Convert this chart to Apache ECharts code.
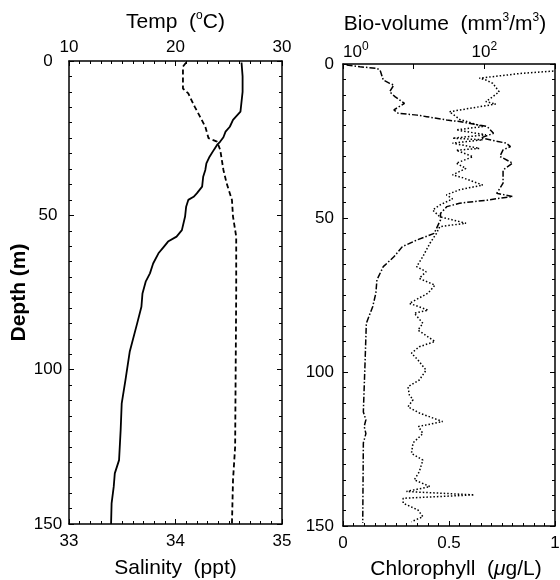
<!DOCTYPE html>
<html>
<head>
<meta charset="utf-8">
<script src="https://cdn.jsdelivr.net/npm/echarts@6/dist/echarts.min.js"></script>
<style>
  html, body { margin: 0; padding: 0; background: #fff; }
  #chart { width: 560px; height: 580px; }
</style>
</head>
<body>
<div id="chart"></div>
<script>
// temperature profile (solid, top axis of left panel)
const tempDepth = [0.5, 5, 10, 16.4, 19.1, 21.3, 22.9, 24.7, 26.1, 27.2, 28.8, 31, 33.2, 35.3, 37.5, 40.7, 42.9, 44, 45, 47.2, 50.4, 54.8, 56.9, 58.5, 60.2, 62.3, 65.6, 68.8, 71.5, 75.3, 79.6, 85, 94.2, 103.4, 110.9, 119.6, 129.3, 133.6, 137.9, 143.3, 150];
const tempValue = [26.2, 26.3, 26.3, 26.1, 25.4, 25.1, 24.7, 24.5, 24.2, 23.9, 23.6, 23.2, 22.9, 22.8, 22.6, 22.5, 22.0, 21.7, 21.2, 21.0, 20.9, 20.6, 20.1, 19.3, 18.9, 18.4, 17.9, 17.6, 17.2, 16.9, 16.8, 16.4, 15.7, 15.3, 14.95, 14.85, 14.7, 14.3, 14.2, 14.0, 13.95];

// salinity profile (dashed, bottom axis of left panel)
const salDepth = [0.5, 1.8, 8.9, 10.5, 14.8, 18, 21.3, 25, 26.1, 28.8, 35.3, 39.6, 45, 50.4, 56.9, 75, 100, 125, 135.8, 150];
const salValue = [34.1, 34.07, 34.07, 34.12, 34.18, 34.23, 34.28, 34.31, 34.39, 34.42, 34.45, 34.48, 34.53, 34.54, 34.57, 34.57, 34.565, 34.56, 34.54, 34.53];

// chlorophyll (dash-dot, bottom axis of right panel)
const chlDepth = [0.3, 0.9, 1.4, 2, 5.2, 6.3, 6.8, 9, 10.6, 12.8, 14.9, 16, 16.6, 17.1, 18.2, 18.7, 20.3, 22.5, 24, 25.7, 26.8, 27.9, 30, 32.2, 34.4, 38.7, 42, 43, 44.2, 45.2, 46.3, 48.5, 50.6, 55, 57.1, 59.3, 62.6, 65.8, 70.1, 74.4, 78.8, 84.2, 97, 113, 115.5, 117.7, 120, 123, 149];
const chlValue = [0.017, 0.08, 0.16, 0.175, 0.19, 0.22, 0.24, 0.22, 0.245, 0.29, 0.24, 0.26, 0.35, 0.395, 0.49, 0.55, 0.68, 0.71, 0.65, 0.77, 0.79, 0.755, 0.74, 0.8, 0.755, 0.755, 0.725, 0.8, 0.68, 0.55, 0.49, 0.46, 0.46, 0.43, 0.35, 0.28, 0.24, 0.19, 0.16, 0.155, 0.14, 0.11, 0.104, 0.096, 0.108, 0.1, 0.108, 0.096, 0.093];

// bio-volume (dotted, log top axis of right panel)
const bioDepth = [2.3, 3, 4.6, 5.2, 6.3, 9, 10.6, 12.2, 13, 15.5, 17.1, 18, 20.3, 21.4, 23, 24.1, 24.6, 25.7, 27.4, 28, 30.1, 32.2, 33.9, 36, 36.9, 39.3, 40.8, 42.5, 43.8, 45.8, 47.4, 49.6, 51.7, 52.8, 55, 58.2, 62.5, 65.8, 67.4, 69.6, 71.8, 74.4, 77.7, 79.9, 80.9, 84.2, 86.4, 90.1, 91.8, 93.9, 96.1, 99.4, 102.6, 104.8, 107.5, 109, 111.3, 113.3, 116.1, 117.7, 120, 123, 126.4, 128.6, 132.4, 135, 137.2, 138.8, 139.9, 141, 142.6, 144.8, 147, 148.6];
const bioValue = [950, 347, 85, 105, 132, 162, 132, 105, 145, 32, 40, 45, 95, 40, 105, 35.5, 95, 35.5, 85, 40, 69, 40, 55, 35.5, 49, 95, 45, 29, 35.5, 23.4, 18.6, 23.4, 55, 23.4, 21, 17, 13.5, 11, 15, 12, 20, 16, 8.7, 16, 10.2, 13.5, 11.5, 20, 12, 9.3, 11.5, 15, 12, 8.3, 8.7, 9.8, 8.3, 12, 25.7, 11.7, 13.5, 9.8, 9.3, 13.5, 12, 10.2, 17, 7.9, 72, 7.1, 7.1, 11.5, 13.5, 9.3];

const font = 'Liberation Sans, Arial, sans-serif';
const sup = { fontSize: 12, lineHeight: 10, verticalAlign: 'top', fontFamily: font, color: '#000' };
const ital = { fontStyle: 'italic', fontSize: 21, lineHeight: 24, fontFamily: font, color: '#000' };

function pairs(ys, xs) {
  return ys.map((d, i) => [xs[i], d]);
}

function nameStyle(extra) {
  return Object.assign({
    color: '#000', fontSize: 21, lineHeight: 24, fontFamily: font,
    rich: { s: sup, i: ital }
  }, extra);
}

function baseAxis(extra) {
  return Object.assign({
    axisLine: { show: true, onZero: false, lineStyle: { color: '#000', width: 1.5 } },
    axisTick: { show: true, inside: true, length: 5, lineStyle: { color: '#000' } },
    minorTick: { show: true, splitNumber: 10, length: 3, lineStyle: { color: '#000' } },
    splitLine: { show: false },
    axisLabel: { color: '#000', fontSize: 17, fontFamily: font },
    nameTextStyle: nameStyle(),
    nameLocation: 'middle'
  }, extra);
}

function depthAxis(grid, pos, label) {
  return baseAxis({
    type: 'value', gridIndex: grid, position: pos,
    min: 0, max: 150, interval: 50, inverse: true,
    axisLabel: label
  });
}

const chart = echarts.init(document.getElementById('chart'));

chart.setOption({
  animation: false,
  backgroundColor: '#fff',
  grid: [
    { left: 69, top: 61, width: 213, height: 463, outerBoundsMode: 'none' },
    { left: 343, top: 64, width: 212, height: 462, outerBoundsMode: 'none' }
  ],
  xAxis: [
    baseAxis({
      type: 'value', gridIndex: 0, position: 'top', min: 10, max: 30, interval: 10,
      name: 'Temp  ({s|o}C)', nameGap: 22,
      axisLabel: { color: '#000', fontSize: 17, fontFamily: font, margin: 5 }
    }),
    baseAxis({
      type: 'value', gridIndex: 0, position: 'bottom', min: 33, max: 35, interval: 1,
      name: 'Salinity  (ppt)', nameGap: 32,
      axisLabel: { color: '#000', fontSize: 17, fontFamily: font, margin: 9 }
    }),
    baseAxis({
      type: 'log', logBase: 10, gridIndex: 1, position: 'top', min: 1, max: 1000,
      name: 'Bio-volume  (mm{s|3}/m{s|3})', nameGap: 23,
      nameTextStyle: nameStyle({ padding: [0, 8, 0, 0] }),
      minorTick: { show: false },
      axisLabel: {
        color: '#000', fontSize: 17, fontFamily: font, margin: 1, lineHeight: 22,
        alignMinLabel: 'left',
        formatter: v => (v === 1 ? '10{s|0}' : v === 100 ? '10{s|2}' : ''),
        rich: { s: sup }
      }
    }),
    baseAxis({
      type: 'value', gridIndex: 1, position: 'bottom', min: 0, max: 1, interval: 0.5,
      name: 'Chlorophyll  ({i|μ}g/L)', nameGap: 30,
      nameTextStyle: nameStyle({ padding: [0, 0, 0, 14] }),
      axisLabel: { color: '#000', fontSize: 17, fontFamily: font, margin: 9 }
    })
  ],
  yAxis: [
    Object.assign(depthAxis(0, 'left', { color: '#000', fontSize: 17, fontFamily: font, margin: 21, align: 'center' }), {
      name: 'Depth (m)', nameGap: 38,
      nameTextStyle: { color: '#000', fontSize: 21, fontWeight: 'bold', fontFamily: font }
    }),
    depthAxis(0, 'right', { show: false }),
    depthAxis(1, 'left', { color: '#000', fontSize: 17, fontFamily: font, margin: 9 }),
    depthAxis(1, 'right', { show: false })
  ],
  series: [
    {
      name: 'Temp', type: 'line', xAxisIndex: 0, yAxisIndex: 0,
      data: pairs(tempDepth, tempValue), showSymbol: false,
      lineStyle: { color: '#000', width: 1.8, type: 'solid' }
    },
    {
      name: 'Salinity', type: 'line', xAxisIndex: 1, yAxisIndex: 0,
      data: pairs(salDepth, salValue), showSymbol: false,
      lineStyle: { color: '#000', width: 1.8, type: [5, 3] }
    },
    {
      name: 'Bio-volume', type: 'line', xAxisIndex: 2, yAxisIndex: 2,
      data: pairs(bioDepth, bioValue), showSymbol: false,
      lineStyle: { color: '#000', width: 1.5, type: [1.5, 2] }
    },
    {
      name: 'Chlorophyll', type: 'line', xAxisIndex: 3, yAxisIndex: 2,
      data: pairs(chlDepth, chlValue), showSymbol: false,
      lineStyle: { color: '#000', width: 1.5, type: [6, 2, 1.5, 2] }
    }
  ]
});
</script>
</body>
</html>
